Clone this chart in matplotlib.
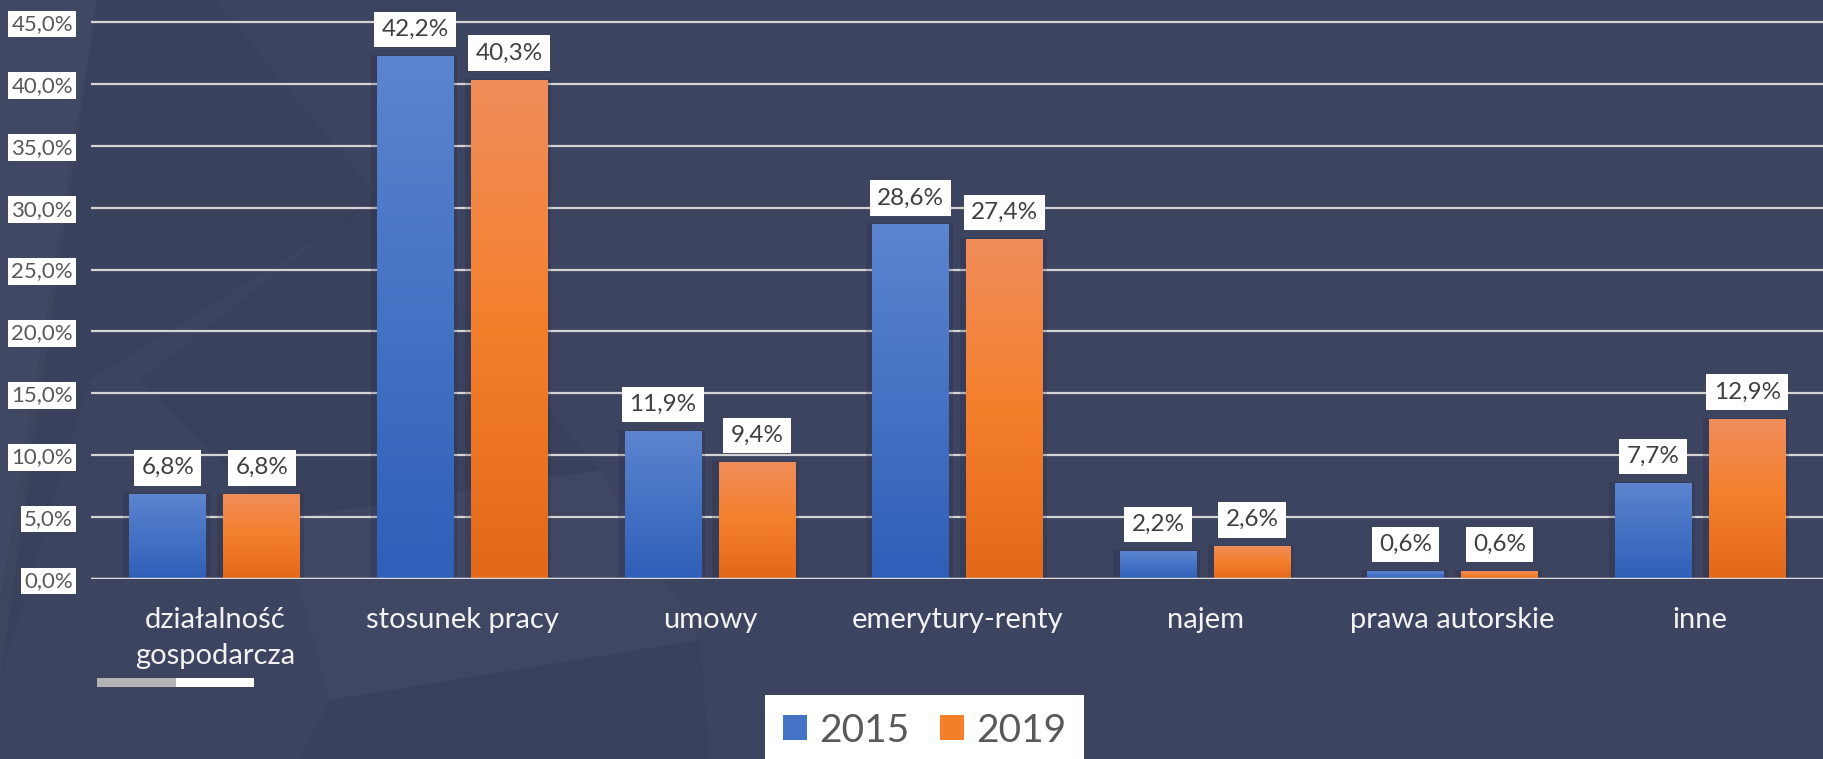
import matplotlib.pyplot as plt
import numpy as np
from matplotlib.patches import Patch, Polygon, Rectangle
from matplotlib.colors import LinearSegmentedColormap

categories = ['działalność\ngospodarcza', 'stosunek pracy', 'umowy', 'emerytury-renty',
              'najem', 'prawa autorskie', 'inne']
years = ['2015', '2019']
values_2015 = [6.8, 42.2, 11.9, 28.6, 2.2, 0.6, 7.7]
values_2019 = [6.8, 40.3, 9.4, 27.4, 2.6, 0.6, 12.9]
yticks = [0, 5, 10, 15, 20, 25, 30, 35, 40, 45]

W, H = 1824, 759
bg = '#3d4460'
blue_stops = ['#5c84cf', '#4472c4', '#2f5fb8']
orange_stops = ['#f08d5a', '#f47f2b', '#e3681a']

plt.rcParams['font.family'] = ['Lato', 'DejaVu Sans']

fig = plt.figure(figsize=(W / 100, H / 100), dpi=100)
fig.patch.set_facecolor(bg)


def px(pts):
    return [(x / W, 1 - y / H) for x, y in pts]


# faint planes in the background
shapes = [
    ([(0, 0), (97, 0), (0, 680)], '#ffffff', 0.025),
    ([(97, 0), (215, 0), (380, 200), (90, 380), (0, 680), (0, 600)], '#000000', 0.04),
    ([(140, 380), (370, 200), (600, 470), (280, 520)], '#000000', 0.035),
    ([(280, 520), (600, 470), (700, 640), (330, 700)], '#ffffff', 0.02),
    ([(330, 700), (700, 640), (710, 759), (300, 759)], '#000000', 0.035),
]
for pts, c, a in shapes:
    fig.add_artist(Polygon(px(pts), closed=True, facecolor=c, alpha=a,
                           edgecolor='none', transform=fig.transFigure, zorder=0))

scale = 12.38  # px per percent
ax = fig.add_axes([91 / W, 1 - 579 / H, 1 - 91 / W, 46 * scale / H])
ax.set_facecolor('none')

x = np.arange(len(categories))
width = 0.31
off = 0.19

bars_a = ax.bar(x - off, values_2015, width, color=blue_stops[1], zorder=3)
bars_b = ax.bar(x + off, values_2019, width, color=orange_stops[1], zorder=3)

# soft shadow and vertical gradient on each bar
for bars, stops in [(bars_a, blue_stops), (bars_b, orange_stops)]:
    cmap = LinearSegmentedColormap.from_list('g', stops[::-1])
    grad = np.linspace(1, 0, 100).reshape(-1, 1)
    for b in bars:
        x0, w, h = b.get_x(), b.get_width(), b.get_height()
        ax.add_patch(Rectangle((x0 - 0.025, 0), w + 0.04, h + 0.12, facecolor='#1e2238',
                               alpha=0.18, edgecolor='none', zorder=2.5))
        ax.imshow(grad, cmap=cmap, extent=(x0, x0 + w, 0, h), aspect='auto', zorder=3.2,
                  interpolation='bilinear')

for bars, vals in [(bars_a, values_2015), (bars_b, values_2019)]:
    for b, v in zip(bars, vals):
        ax.annotate(f'{v:.1f}%'.replace('.', ','), (b.get_x() + b.get_width() / 2, v),
                    xytext=(0, 19.5), textcoords='offset points', ha='center', va='center',
                    fontsize=17.5, color='#404040', zorder=5,
                    bbox=dict(boxstyle='square,pad=0.3', facecolor='white', edgecolor='none'))

ax.set_xlim(-0.5, len(categories) - 0.5)
ax.set_ylim(0, 46)
ax.set_yticks(yticks)
ax.set_yticklabels([f'{t:.1f}%'.replace('.', ',') for t in yticks])
ax.yaxis.grid(True, color='#d4d4d4', lw=1.6)
ax.set_axisbelow(True)
ax.axhline(0, color='#d9d9d9', lw=2.5, zorder=4)
for s in ax.spines.values():
    s.set_visible(False)

ax.tick_params(axis='y', length=0, pad=13, labelsize=16, labelcolor='#595959')
for lbl in ax.get_yticklabels():
    lbl.set_bbox(dict(boxstyle='square,pad=0.15', facecolor='white', edgecolor='none'))

ax.set_xticks(x)
ax.set_xticklabels(categories, linespacing=1.5)
ax.tick_params(axis='x', length=0, pad=20, labelsize=21, labelcolor='#f2f2f2')

# scrollbar-like strip under the first label
fig.add_artist(Rectangle((97 / W, 1 - 687 / H), 79 / W, 9 / H, facecolor='#b4b4b4',
                         edgecolor='none', transform=fig.transFigure))
fig.add_artist(Rectangle((176 / W, 1 - 687 / H), 78 / W, 9 / H, facecolor='white',
                         edgecolor='none', transform=fig.transFigure))

handles = [Patch(facecolor=blue_stops[1]), Patch(facecolor=orange_stops[1])]
leg = fig.legend(handles, years, loc='upper center', bbox_to_anchor=(924.5 / W, 1 - 695 / H),
                 ncol=2, frameon=True, facecolor='white', edgecolor='none', fancybox=False,
                 framealpha=1, fontsize=28, labelcolor='#595959', handlelength=0.62,
                 handleheight=0.62, handletextpad=0.3, columnspacing=0.8, borderpad=0.45,
                 borderaxespad=0)

fig.savefig('out.png', dpi=100, facecolor=fig.get_facecolor())
